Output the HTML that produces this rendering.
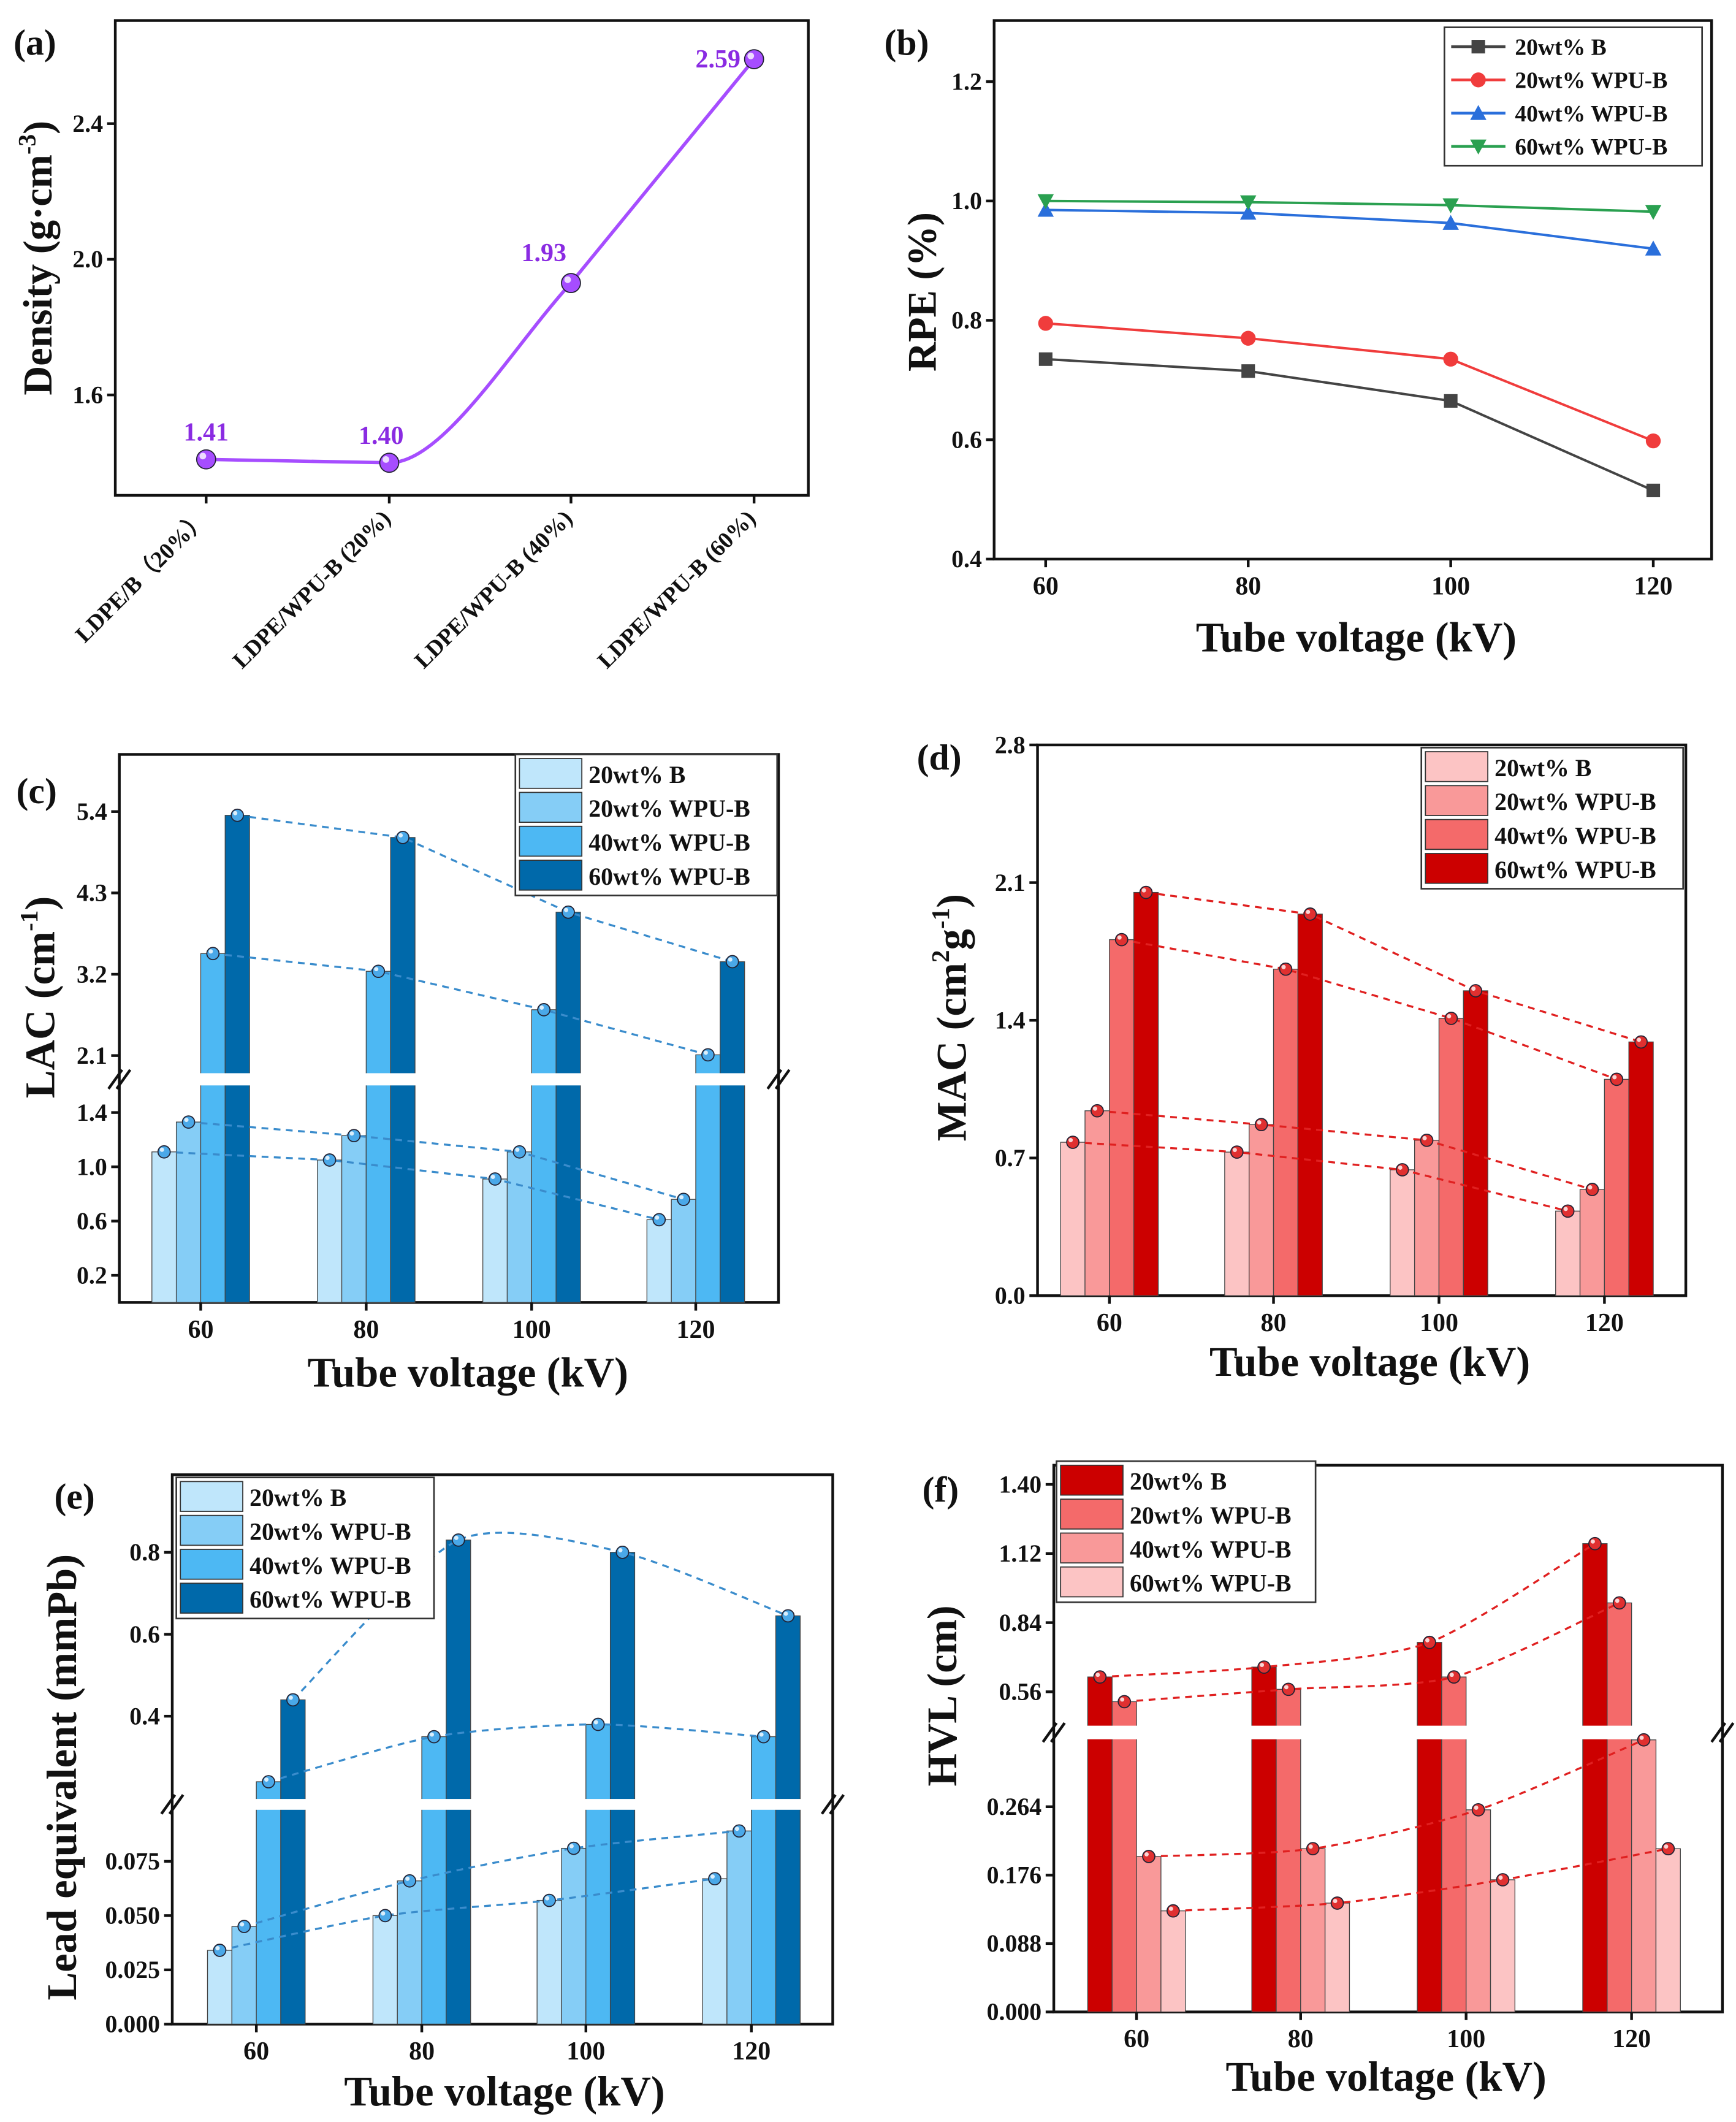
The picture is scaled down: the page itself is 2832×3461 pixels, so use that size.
<!DOCTYPE html>
<html><head><meta charset="utf-8"><style>
html,body{margin:0;padding:0;background:#fff}
svg{display:block}
text{font-family:"Liberation Serif",serif;font-weight:bold;fill:#111}
</style></head><body>
<svg id="fig" width="2832" height="3461" viewBox="0 0 1280 1564" xmlns="http://www.w3.org/2000/svg"></svg>
<script>
// ---------- data ----------
const aCats = ["LDPE/B（20%）","LDPE/WPU-B (20%)","LDPE/WPU-B (40%)","LDPE/WPU-B (60%)"];
const aVals = [1.41,1.40,1.93,2.59];
const aTicks = [1.6,2.0,2.4];

const voltages = [60,80,100,120];
const seriesNames = ["20wt% B","20wt% WPU-B","40wt% WPU-B","60wt% WPU-B"];

const bTicks = [0.4,0.6,0.8,1.0,1.2];
const rpeB = [0.735,0.715,0.665,0.515];
const rpe20 = [0.795,0.77,0.735,0.598];
const rpe40 = [0.985,0.98,0.963,0.92];
const rpe60 = [1.0,0.998,0.993,0.982];

const lacB = [1.11,1.05,0.91,0.61];
const lac20 = [1.33,1.23,1.11,0.76];
const lac40 = [3.48,3.24,2.72,2.11];
const lac60 = [5.35,5.05,4.04,3.37];
const cTicksLow = [0.2,0.6,1.0,1.4];
const cTicksHigh = [2.1,3.2,4.3,5.4];

const macB = [0.78,0.73,0.64,0.43];
const mac20 = [0.94,0.87,0.79,0.54];
const mac40 = [1.81,1.66,1.41,1.10];
const mac60 = [2.05,1.94,1.55,1.29];
const dTicks = [0.0,0.7,1.4,2.1,2.8];

const leB = [0.034,0.050,0.057,0.067];
const le20 = [0.045,0.066,0.081,0.089];
const le40 = [0.24,0.35,0.38,0.35];
const le60 = [0.44,0.83,0.80,0.645];
const eTicksLow = [0.000,0.025,0.050,0.075];
const eTicksHigh = [0.4,0.6,0.8];

const hvlB = [0.62,0.66,0.76,1.16];
const hvl20 = [0.52,0.57,0.62,0.92];
const hvl40 = [0.20,0.21,0.26,0.35];
const hvl60 = [0.13,0.14,0.17,0.21];
const fTicksLow = [0.000,0.088,0.176,0.264];
const fTicksHigh = [0.56,0.84,1.12,1.40];

// ---------- helpers ----------
const NS="http://www.w3.org/2000/svg";
const svg=document.getElementById('fig');
function el(tag,attrs,parent,txt){const e=document.createElementNS(NS,tag);for(const k in attrs)e.setAttribute(k,attrs[k]);if(txt!==undefined)e.textContent=txt;(parent||svg).appendChild(e);return e;}
function grp(name){const g=el('g',{});return g;}
function spline(pts,k){k=k||6;let d=`M${pts[0][0]},${pts[0][1]}`;for(let i=0;i<pts.length-1;i++){const p0=pts[Math.max(0,i-1)],p1=pts[i],p2=pts[i+1],p3=pts[Math.min(pts.length-1,i+2)];const c1=[p1[0]+(p2[0]-p0[0])/k,p1[1]+(p2[1]-p0[1])/k],c2=[p2[0]-(p3[0]-p1[0])/k,p2[1]-(p3[1]-p1[1])/k];d+=` C${c1[0]},${c1[1]} ${c2[0]},${c2[1]} ${p2[0]},${p2[1]}`;}return d;}
function label(g,x,y,t,size,anchor,extra){const e=el('text',Object.assign({x:x,y:y,'font-size':size,'text-anchor':anchor||'middle'},extra||{}),g,t);return e;}
function ytitle(g,x,y,parts,size){const t=el('text',{x:0,y:0,'font-size':size,'text-anchor':'middle',transform:`translate(${x},${y}) rotate(-90)`},g);parts.forEach(p=>{el('tspan',p.sup?{'font-size':size*0.6,dy:-size*0.4}:(p.after?{dy:size*0.4}:{}),t,p.t);});return t;}
function box(g,x0,y0,x1,y1){el('rect',{x:x0,y:y0,width:x1-x0,height:y1-y0,fill:'none',stroke:'#111','stroke-width':2},g);}
function ytick(g,x,y,txt){el('line',{x1:x,y1:y,x2:x-6,y2:y,stroke:'#111','stroke-width':2},g);const t=label(g,x-9,y+6,txt,18,'end');}
function xtick(g,x,y,txt){el('line',{x1:x,y1:y,x2:x,y2:y+6,stroke:'#111','stroke-width':2},g);const t=label(g,x,y+26,txt,19,'middle');}
function panelLabel(x,y,t){const e=label(svg,x,y,t,27,'start');}
function sphere(g,x,y,r,col){el('circle',{cx:x,cy:y,r:r,fill:col,stroke:'#223','stroke-width':0.8},g);el('circle',{cx:x-r*0.35,cy:y-r*0.35,r:r*0.35,fill:'#fff',opacity:0.8},g);}
function legend(g,x0,y0,w,rowH,colors,names,kind){el('rect',{x:x0,y:y0,width:w,height:rowH*names.length+4,fill:'#fff',stroke:'#333','stroke-width':1.2},g);names.forEach((n,i)=>{const y=y0+2+i*rowH;const lg=el('g',{},g);if(kind==='bar'){el('rect',{x:x0+3,y:y+1,width:46,height:rowH-3,fill:colors[i],stroke:'#333','stroke-width':0.8},lg);label(lg,x0+54,y+rowH-6,n,18,'start');}else{el('line',{x1:x0+5,y1:y+rowH/2,x2:x0+45,y2:y+rowH/2,stroke:colors[i],'stroke-width':2},lg);marker(lg,x0+25,y+rowH/2,i,colors[i]);label(lg,x0+52,y+rowH/2+6,n,17,'start');}});}
function marker(g,x,y,i,c){if(i===0)el('rect',{x:x-5,y:y-5,width:10,height:10,fill:c},g);else if(i===1)el('circle',{cx:x,cy:y,r:5.5,fill:c},g);else if(i===2)el('polygon',{points:`${x},${y-6} ${x-6},${y+5} ${x+6},${y+5}`,fill:c},g);else el('polygon',{points:`${x},${y+6} ${x-6},${y-5} ${x+6},${y-5}`,fill:c},g);}
function breakMarks(g,x,y){for(const dx of [-3,3])el('line',{x1:x+dx-5,y1:y+7,x2:x+dx+5,y2:y-7,stroke:'#111','stroke-width':2},g);}

// ---------- (a) ----------
(function(){
 const g=grp('panel-a-density');
 const X0=85,X1=596,Y0=15,Y1=365;
 const xs=[152,287,421,556];
 const y=v=>291-(v-1.6)*250;
 box(g,X0,Y0,X1,Y1);
 aTicks.forEach(v=>ytick(g,X0,y(v),v.toFixed(1)));
 aCats.forEach((c,i)=>{el('line',{x1:xs[i],y1:Y1,x2:xs[i],y2:Y1+6,stroke:'#111','stroke-width':2},g);const t=label(g,xs[i]+2,Y1+18,c,17,'end',{transform:`rotate(-45 ${xs[i]+2} ${Y1+18})`});});
 const p0=[xs[0],y(aVals[0])],p1=[xs[1],y(aVals[1])],p2=[xs[2],y(aVals[2])],p3=[xs[3],y(aVals[3])];
 const dx=(p3[0]-p1[0]),dy=(p3[1]-p1[1]);
 const d=`M${p0[0]},${p0[1]} L${p1[0]},${p1[1]} C${p1[0]+40},${p1[1]} ${p2[0]-dx/6},${p2[1]-dy/6} ${p2[0]},${p2[1]} L${p3[0]},${p3[1]}`;
 const p=el('path',{d:d,fill:'none',stroke:'#a64dff','stroke-width':2.5},g);
 
 aVals.forEach((v,i)=>{sphere(g,xs[i],y(v),7,'#a64dff');const off=[[0,-14,'middle'],[-6,-14,'middle'],[-20,-16,'middle'],[-10,6,'end']][i];const t=el('text',{x:xs[i]+off[0],y:y(v)+off[1],'font-size':19,'text-anchor':off[2],style:'fill:#8a2be2'},g,v.toFixed(2));});
 ytitle(g,38,190,[{t:'Density (g·cm'},{t:'-3',sup:true},{t:')',after:true}],30);
})();
panelLabel(10,40,'(a)');

// ---------- (b) ----------
(function(){
 const g=grp('panel-b-rpe');
 const X0=733,X1=1262,Y0=15,Y1=412;
 const x=v=>771+(v-60)*(1219-771)/60;
 const y=v=>412-(v-0.4)*440;
 box(g,X0,Y0,X1,Y1);
 bTicks.forEach(v=>ytick(g,X0,y(v),v.toFixed(1)));
 voltages.forEach(v=>xtick(g,x(v),Y1,String(v)));
 const cols=['#444','#f03c3c','#2a6fdb','#2aa050'];
 [rpeB,rpe20,rpe40,rpe60].forEach((s,i)=>{const pts=s.map((v,j)=>[x(voltages[j]),y(v)]);const p=el('polyline',{points:pts.map(q=>q.join(',')).join(' '),fill:'none',stroke:cols[i],'stroke-width':1.8},g);pts.forEach(q=>marker(g,q[0],q[1],i,cols[i]));});
 legend(g,1065,20,190,24.5,cols,seriesNames,'line');
 label(g,1000,480,'Tube voltage (kV)',31,'middle');
 ytitle(g,690,215,[{t:'RPE (%)'}],30);
})();
panelLabel(652,40,'(b)');

// ---------- grouped bar helper ----------
function barPanel(cfg){
 const g=grp(cfg.name);
 box(g,cfg.X0,cfg.Y0,cfg.X1,cfg.Y1);
 const bw=cfg.bw;
 cfg.series.forEach((s,i)=>{s.forEach((v,j)=>{const cx=cfg.centers[j]-2*bw+i*bw;const yt=cfg.y(v);const r=el('rect',{x:cx,y:yt,width:bw,height:cfg.Y1-yt,fill:cfg.colors[i],stroke:'#444','stroke-width':0.6},g);});});
 if(cfg.gap){el('rect',{x:cfg.X0+1,y:cfg.gap[0],width:cfg.X1-cfg.X0-2,height:cfg.gap[1]-cfg.gap[0],fill:'#fff'},g);breakMarks(g,cfg.X0,(cfg.gap[0]+cfg.gap[1])/2);breakMarks(g,cfg.X1,(cfg.gap[0]+cfg.gap[1])/2);}
 cfg.series.forEach((s,i)=>{const pts=s.map((v,j)=>[cfg.centers[j]-2*bw+i*bw+bw/2,cfg.y(v)]);const p=el('path',{d:cfg.curve?spline(pts,8):'M'+pts.map(q=>q.join(',')).join(' L'),fill:'none',stroke:cfg.lineCol,'stroke-width':1.5,'stroke-dasharray':'5,4'},g);pts.forEach(q=>sphere(g,q[0],q[1],4.5,cfg.dotCol));});
 cfg.ticks.forEach(t=>ytick(g,cfg.X0,cfg.y(t[0]),t[1]));
 voltages.forEach((v,j)=>xtick(g,cfg.centers[j],cfg.Y1,String(v)));
 legend(g,cfg.leg[0],cfg.leg[1],cfg.leg[2],cfg.leg[3],cfg.colors,seriesNames,'bar');
 label(g,cfg.xt[0],cfg.xt[1],'Tube voltage (kV)',31,'middle');
 return g;
}
const blues=['#bfe6fb','#85cdf6','#4db8f3','#0069aa'];
const reds=['#fcc4c4','#f99999','#f46a6a','#cc0000'];

// (c)
(function(){
 const y=v=>v<=1.7?960-100*v:778-(v-2.1)*54.5;
 const g=barPanel({name:'panel-c-lac',X0:88,X1:574,Y0:556,Y1:960,bw:18,centers:[148,270,392,513],y:y,series:[lacB,lac20,lac40,lac60],colors:blues,gap:[791,800],lineCol:'#3a8ccc',dotCol:'#4aa8e8',curve:false,
  ticks:cTicksLow.map(v=>[v,v.toFixed(1)]).concat(cTicksHigh.map(v=>[v,v.toFixed(1)])),leg:[380,556,193,25],xt:[345,1022]});
 ytitle(g,40,735,[{t:'LAC (cm'},{t:'-1',sup:true},{t:')',after:true}],31);
})();
panelLabel(12,592,'(c)');

// (d)
(function(){
 const y=v=>955-v*145;
 const g=barPanel({name:'panel-d-mac',X0:765,X1:1243,Y0:549,Y1:955,bw:18,centers:[818,939,1061,1183],y:y,series:[macB,mac20,mac40,mac60],colors:reds,gap:null,lineCol:'#e02020',dotCol:'#e03030',curve:false,
  ticks:dTicks.map(v=>[v,v.toFixed(1)]),leg:[1048,551,193,25],xt:[1010,1014]});
 ytitle(g,712,750,[{t:'MAC (cm'},{t:'2',sup:true},{t:'g',after:true},{t:'-1',sup:true},{t:')',after:true}],31);
})();
panelLabel(676,567,'(d)');

// (e)
(function(){
 const y=v=>v<=0.12?1492-1600*v:1265-(v-0.4)*302;
 const g=barPanel({name:'panel-e-lead-equivalent',X0:127,X1:614,Y0:1087,Y1:1492,bw:18,centers:[189,311,432,554],y:y,series:[leB,le20,le40,le60],colors:blues,gap:[1326,1334],lineCol:'#3a8ccc',dotCol:'#4aa8e8',curve:true,
  ticks:eTicksLow.map(v=>[v,v.toFixed(3)]).concat(eTicksHigh.map(v=>[v,v.toFixed(1)])),leg:[130,1089,190,25],xt:[372,1552]});
 ytitle(g,56,1310,[{t:'Lead equivalent (mmPb)'}],31);
})();
panelLabel(40,1112,'(e)');

// (f)
(function(){
 const y=v=>v<=0.4?1483-v*573:1247-(v-0.56)*182;
 const g=barPanel({name:'panel-f-hvl',X0:777,X1:1270,Y0:1080,Y1:1483,bw:18,centers:[838,959,1081,1203],y:y,series:[hvlB,hvl20,hvl40,hvl60],colors:['#cc0000','#f46a6a','#f99999','#fcc4c4'],gap:[1272,1282],lineCol:'#e02020',dotCol:'#e03030',curve:true,
  ticks:fTicksLow.map(v=>[v,v.toFixed(3)]).concat(fTicksHigh.map(v=>[v,v.toFixed(2)])),leg:[779,1077,191,25],xt:[1022,1541]});
 ytitle(g,705,1250,[{t:'HVL (cm)'}],31);
})();
panelLabel(680,1107,'(f)');
</script>
</body></html>
